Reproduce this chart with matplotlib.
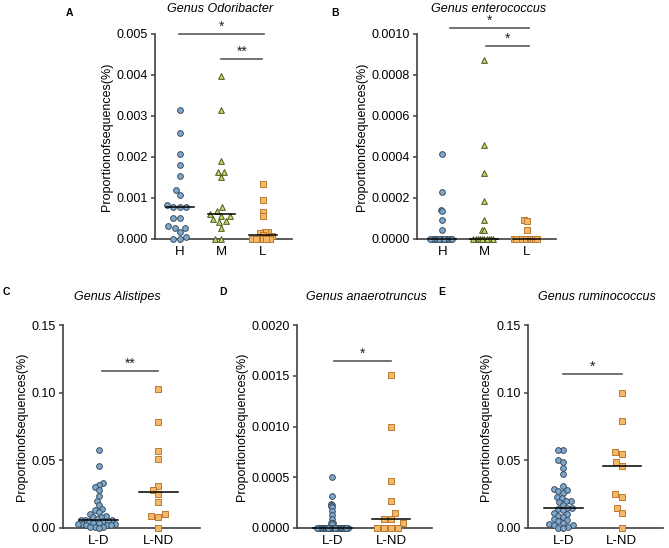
import numpy as np
import matplotlib
matplotlib.use("Agg")
import matplotlib.pyplot as plt

plt.rcParams['font.family'] = ['Liberation Sans', 'DejaVu Sans']

# ---- data ----
groups_hml = ["H", "M", "L"]
groups_ld = ["L-D", "L-ND"]

odori_H = [3.14, 2.59, 2.07, 1.80, 1.53, 1.20, 1.07, 0.82, 0.79, 0.79, 0.78,
           0.51, 0.51, 0.32, 0.27, 0.27, 0.18, 0.05, 0.0, 0.0]
odori_M = [3.97, 3.14, 1.90, 1.64, 1.63, 1.50, 0.79, 0.69, 0.61, 0.57, 0.56,
           0.48, 0.43, 0.42, 0.27, 0.0, 0.0]
odori_L = [1.33, 0.95, 0.66, 0.56, 0.18, 0.17, 0.15, 0.10, 0.07,
           0.0, 0.0, 0.0, 0.0, 0.0, 0.0]

entero_H = [0.415, 0.229, 0.140, 0.138, 0.091, 0.046] + [0.0] * 14
entero_M = [0.875, 0.460, 0.324, 0.184, 0.091, 0.046, 0.046] + [0.0] * 10
entero_L = [0.091, 0.090, 0.046] + [0.0] * 12

alis_LD = [0.058, 0.046, 0.033, 0.032, 0.030, 0.028, 0.024, 0.020, 0.017,
           0.014, 0.013, 0.012, 0.010, 0.009, 0.008, 0.008, 0.007, 0.006,
           0.006, 0.006, 0.005, 0.005, 0.005, 0.004, 0.004, 0.003, 0.003,
           0.003, 0.002, 0.002, 0.002, 0.001, 0.001, 0.001, 0.0]
alis_LND = [0.103, 0.078, 0.057, 0.051, 0.031, 0.028, 0.025, 0.019,
            0.010, 0.009, 0.008, 0.0]

anaero_LD = [0.50, 0.32, 0.24, 0.23, 0.22, 0.21, 0.17, 0.13, 0.09,
             0.05, 0.05, 0.04] + [0.0] * 23
anaero_LND = [1.51, 1.00, 0.46, 0.27, 0.145, 0.092, 0.088, 0.046,
              0.0, 0.0, 0.0, 0.0]

rumi_LD = [0.058, 0.058, 0.050, 0.049, 0.044, 0.040, 0.031, 0.029, 0.028,
           0.027, 0.026, 0.023, 0.022, 0.020, 0.020, 0.019, 0.017, 0.015,
           0.015, 0.014, 0.013, 0.011, 0.010, 0.009, 0.008, 0.007, 0.006,
           0.005, 0.004, 0.003, 0.002, 0.002, 0.001, 0.0, 0.0]
rumi_LND = [0.100, 0.079, 0.056, 0.055, 0.049, 0.046, 0.025, 0.023,
            0.015, 0.011, 0.0]

# styles
BLUE = dict(marker='o', fc='#7ea9cf', ec='#3b4d5e')
GREEN = dict(marker='^', fc='#c3d96b', ec='#4b5a1e')
ORANGE = dict(marker='s', fc='#f5b866', ec='#b87a34')
AXC = '#404040'


def swarm(ax, xpos, vals, d):
    """simple beeswarm: offsets in pixels, d = min spacing"""
    vals = np.asarray(vals, float)
    pix = ax.transData.transform(np.column_stack([np.full(len(vals), xpos), vals]))
    ys = pix[:, 1]
    order = np.argsort(ys)
    placed = []
    offs = np.zeros(len(vals))
    for i in order:
        y = ys[i]
        cands = [0.0]
        for (px, py) in placed:
            dy = abs(py - y)
            if dy < d:
                dx = np.sqrt(d * d - dy * dy)
                cands += [px + dx, px - dx]
        cands.sort(key=lambda c: (abs(c), c))
        for c in cands:
            if all((c - px) ** 2 + (y - py) ** 2 >= d * d - 1e-6 for px, py in placed):
                break
        placed.append((c, y))
        offs[i] = c
    ppu = ax.transData.transform([(1, 0)])[0, 0] - ax.transData.transform([(0, 0)])[0, 0]
    return xpos + offs / ppu


def panel(fig, rect, cats, series, styles, spacing, top, ticks, fmt, sigs):
    ax = fig.add_axes(rect)
    n = len(cats)
    ax.set_xlim(0.4, n + 0.7)
    ax.set_ylim(0, top)
    for k, (vals, st, d) in enumerate(zip(series, styles, spacing)):
        x = k + 1
        xs = swarm(ax, x, vals, d)
        ax.scatter(xs, vals, s=17, marker=st['marker'], facecolor=st['fc'],
                   edgecolor=st['ec'], linewidth=0.7, zorder=3, clip_on=False)
        med = np.median(vals)
        ax.plot([x - 0.33, x + 0.33], [med, med], color='black', lw=1.1,
                zorder=4, clip_on=False)
    for s in ['top', 'right']:
        ax.spines[s].set_visible(False)
    for s in ['left', 'bottom']:
        ax.spines[s].set_color(AXC)
        ax.spines[s].set_linewidth(1.2)
    ax.set_xticks(range(1, n + 1))
    ax.set_xticklabels(cats, fontsize=9.5)
    ax.set_yticks(ticks)
    ax.set_yticklabels([fmt.format(t) for t in ticks], fontsize=9)
    ax.tick_params(axis='both', direction='out', length=3, width=1.1,
                   color=AXC, pad=2)
    ax.set_ylabel("Proportionofsequences(%)", fontsize=9, labelpad=3)
    for (a, b, yv, star) in sigs:
        ax.plot([a, b], [yv, yv], color='#5a5a5a', lw=1.2, clip_on=False)
        ax.text((a + b) / 2, yv, star, ha='center', va='bottom',
                fontsize=10, color='#222222')
    return ax


fig = plt.figure(figsize=(6.69, 5.48), dpi=100)

panel(fig, [0.2317, 0.5639, 0.2048, 0.3741], groups_hml,
      [[v * 1e-3 for v in odori_H], [v * 1e-3 for v in odori_M], [v * 1e-3 for v in odori_L]],
      [BLUE, GREEN, ORANGE], [6.5, 6.5, 3.5], 0.005,
      [0, 0.001, 0.002, 0.003, 0.004, 0.005], "{:.3f}",
      [(0.97, 3.03, 0.005, "*"), (2.0, 2.98, 0.0044, "**")])

panel(fig, [0.6233, 0.5639, 0.2078, 0.3741], groups_hml,
      [[v * 1e-3 for v in entero_H], [v * 1e-3 for v in entero_M], [v * 1e-3 for v in entero_L]],
      [BLUE, GREEN, ORANGE], [1.7, 2.2, 2.1], 0.0010,
      [0, 0.0002, 0.0004, 0.0006, 0.0008, 0.0010], "{:.4f}",
      [(1.18, 3.05, 0.00103, "*"), (2.03, 3.05, 0.00094, "*")])

panel(fig, [0.0942, 0.0365, 0.2048, 0.3704], groups_ld,
      [alis_LD, alis_LND], [BLUE, ORANGE], [4.3, 7], 0.15,
      [0, 0.05, 0.10, 0.15], "{:.2f}",
      [(1.05, 2.0, 0.116, "**")])

panel(fig, [0.4440, 0.0365, 0.2018, 0.3704], groups_ld,
      [[v * 1e-3 for v in anaero_LD], [v * 1e-3 for v in anaero_LND]],
      [BLUE, ORANGE], [1.4, 7], 0.0020,
      [0, 0.0005, 0.0010, 0.0015, 0.0020], "{:.4f}",
      [(1.03, 2.0, 0.00165, "*")])

panel(fig, [0.7892, 0.0365, 0.2018, 0.3704], groups_ld,
      [rumi_LD, rumi_LND], [BLUE, ORANGE], [5.0, 7], 0.15,
      [0, 0.05, 0.10, 0.15], "{:.2f}",
      [(1.0, 2.0, 0.1138, "*")])

titles = [("Genus Odoribacter", 0.329, 0.983), ("Genus enterococcus", 0.731, 0.983),
          ("Genus Alistipes", 0.175, 0.458), ("Genus anaerotruncus", 0.547, 0.458),
          ("Genus ruminococcus", 0.892, 0.458)]
for t, x, y in titles:
    fig.text(x, y, t, ha='center', va='center', fontsize=9, style='italic')

letters = [("A", 0.1046, 0.976), ("B", 0.5007, 0.976), ("C", 0.010, 0.468),
           ("D", 0.334, 0.468), ("E", 0.661, 0.468)]
for t, x, y in letters:
    fig.text(x, y, t, ha='center', va='center', fontsize=7.5, fontweight='bold')

fig.savefig("out.png", dpi=100)
